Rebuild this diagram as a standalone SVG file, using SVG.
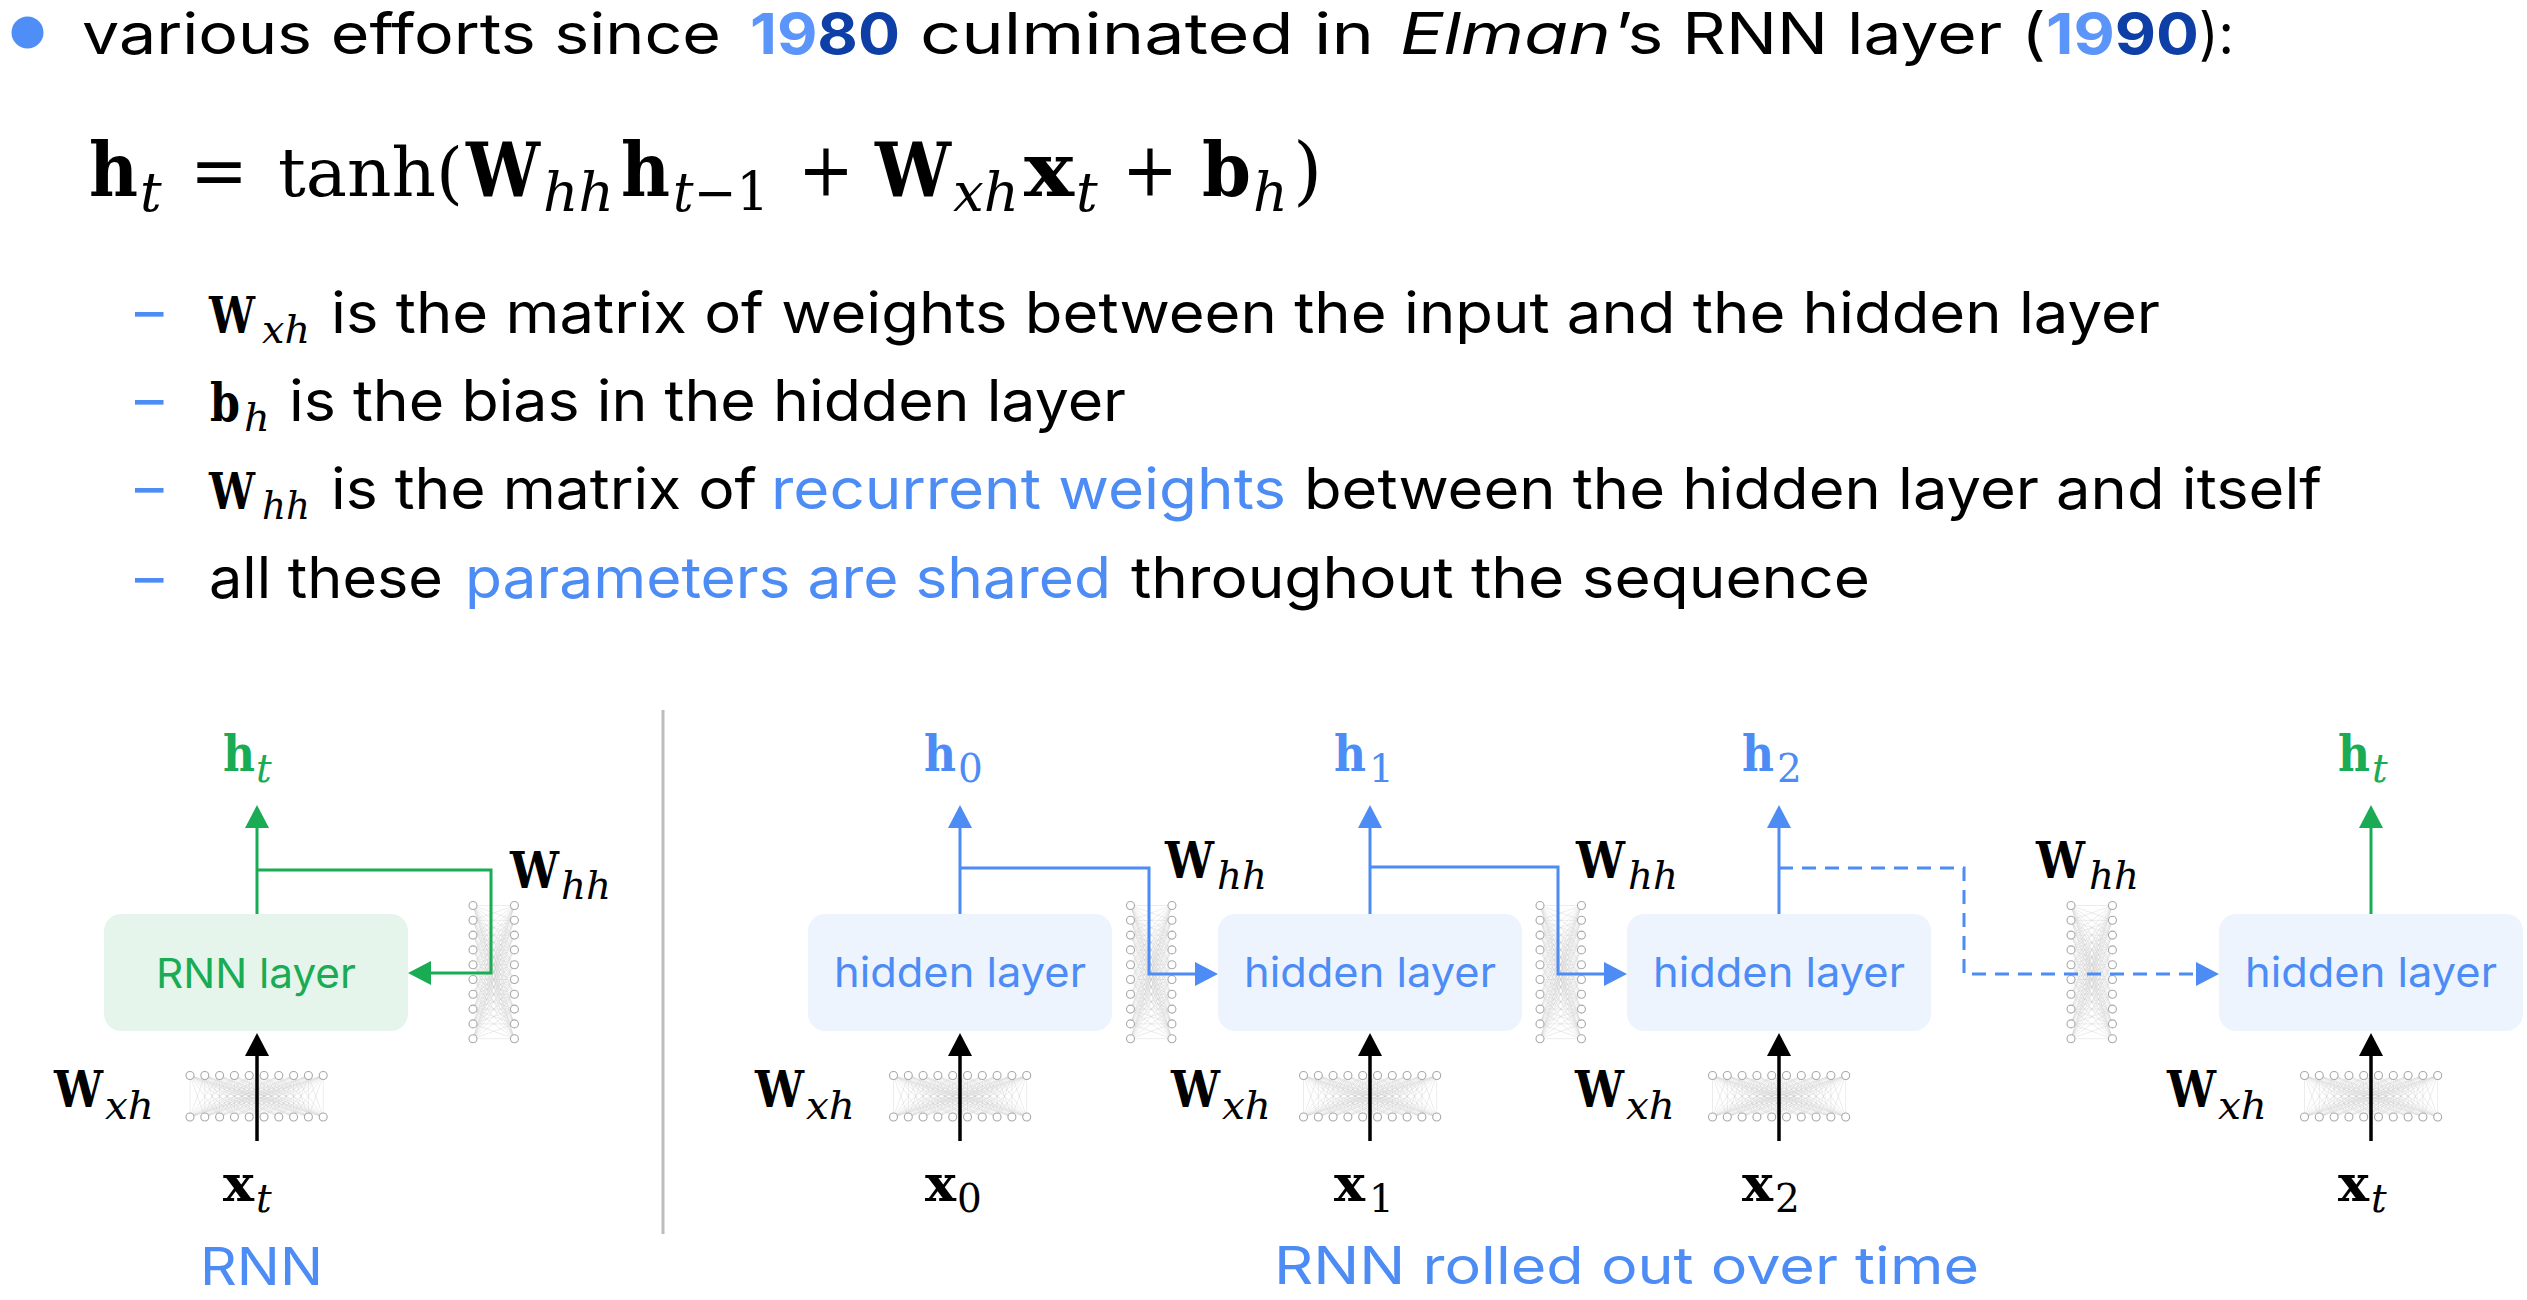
<svg xmlns="http://www.w3.org/2000/svg" xmlns:xlink="http://www.w3.org/1999/xlink" width="2527" height="1300" viewBox="0 0 2527 1300">
<style>
.t{font-family:Inter,"Open Sans","Liberation Sans",sans-serif;font-size:57px;fill:#000}
.hl{fill:#4d8cf5}
.m{font-family:"DejaVu Serif","Liberation Serif",serif;font-weight:bold;font-style:normal}
.mi{font-family:"DejaVu Serif","Liberation Serif",serif;font-style:italic;font-weight:normal}
.mr{font-family:"DejaVu Serif","Liberation Serif",serif;font-weight:normal;font-style:normal}
.lab{font-size:50px}
.sub{font-size:39px}
.bs{font-size:40px}
.eq{font-size:75px}
.es{font-size:54px}
.box-b{fill:#eef4fe}
.box-g{fill:#e6f5ec}
.btxt{font-family:Inter,"Open Sans","Liberation Sans",sans-serif;font-size:41px;fill:#4d8cf5}
.gtxt{font-family:Inter,"Open Sans","Liberation Sans",sans-serif;font-size:41px;fill:#1aab55}
.cap{font-family:Inter,"Open Sans","Liberation Sans",sans-serif;font-size:52px;fill:#4d8cf5}
.lb{fill:none;stroke:#4d8cf5;stroke-width:3}
.lg{fill:none;stroke:#1aab55;stroke-width:3}
.lk{fill:none;stroke:#000;stroke-width:3.5}
.fb{fill:#4d8cf5}
.fg{fill:#1aab55}
.fk{fill:#000}
</style>
<defs>
<marker id="ab" viewBox="0 0 23 24" refX="13" refY="12" markerWidth="23" markerHeight="24" markerUnits="userSpaceOnUse" orient="auto"><path d="M0,0L23,12L0,24z" fill="#4d8cf5"/></marker>
<marker id="ag" viewBox="0 0 23 24" refX="13" refY="12" markerWidth="23" markerHeight="24" markerUnits="userSpaceOnUse" orient="auto"><path d="M0,0L23,12L0,24z" fill="#1aab55"/></marker>
<marker id="ak" viewBox="0 0 23 24" refX="13" refY="12" markerWidth="23" markerHeight="24" markerUnits="userSpaceOnUse" orient="auto"><path d="M0,0L23,12L0,24z" fill="#000"/></marker>
<g id="mesh">
<path fill="none" stroke="#c4c4c4" stroke-width="0.6" stroke-opacity="0.55" vector-effect="non-scaling-stroke" d="M0 0L0 28M0 0L10 28M0 0L20 28M0 0L30 28M0 0L40 28M0 0L50 28M0 0L60 28M0 0L70 28M0 0L80 28M0 0L90 28
M10 0L0 28M10 0L10 28M10 0L20 28M10 0L30 28M10 0L40 28M10 0L50 28M10 0L60 28M10 0L70 28M10 0L80 28M10 0L90 28
M20 0L0 28M20 0L10 28M20 0L20 28M20 0L30 28M20 0L40 28M20 0L50 28M20 0L60 28M20 0L70 28M20 0L80 28M20 0L90 28
M30 0L0 28M30 0L10 28M30 0L20 28M30 0L30 28M30 0L40 28M30 0L50 28M30 0L60 28M30 0L70 28M30 0L80 28M30 0L90 28
M40 0L0 28M40 0L10 28M40 0L20 28M40 0L30 28M40 0L40 28M40 0L50 28M40 0L60 28M40 0L70 28M40 0L80 28M40 0L90 28
M50 0L0 28M50 0L10 28M50 0L20 28M50 0L30 28M50 0L40 28M50 0L50 28M50 0L60 28M50 0L70 28M50 0L80 28M50 0L90 28
M60 0L0 28M60 0L10 28M60 0L20 28M60 0L30 28M60 0L40 28M60 0L50 28M60 0L60 28M60 0L70 28M60 0L80 28M60 0L90 28
M70 0L0 28M70 0L10 28M70 0L20 28M70 0L30 28M70 0L40 28M70 0L50 28M70 0L60 28M70 0L70 28M70 0L80 28M70 0L90 28
M80 0L0 28M80 0L10 28M80 0L20 28M80 0L30 28M80 0L40 28M80 0L50 28M80 0L60 28M80 0L70 28M80 0L80 28M80 0L90 28
M90 0L0 28M90 0L10 28M90 0L20 28M90 0L30 28M90 0L40 28M90 0L50 28M90 0L60 28M90 0L70 28M90 0L80 28M90 0L90 28"/>
<g fill="#fff" stroke="#a8a8a8" stroke-width="1.1">
<circle cx="0" cy="0" r="2.7" vector-effect="non-scaling-stroke"/><circle cx="10" cy="0" r="2.7" vector-effect="non-scaling-stroke"/><circle cx="20" cy="0" r="2.7" vector-effect="non-scaling-stroke"/><circle cx="30" cy="0" r="2.7" vector-effect="non-scaling-stroke"/><circle cx="40" cy="0" r="2.7" vector-effect="non-scaling-stroke"/><circle cx="50" cy="0" r="2.7" vector-effect="non-scaling-stroke"/><circle cx="60" cy="0" r="2.7" vector-effect="non-scaling-stroke"/><circle cx="70" cy="0" r="2.7" vector-effect="non-scaling-stroke"/><circle cx="80" cy="0" r="2.7" vector-effect="non-scaling-stroke"/><circle cx="90" cy="0" r="2.7" vector-effect="non-scaling-stroke"/>
<circle cx="0" cy="28" r="2.7" vector-effect="non-scaling-stroke"/><circle cx="10" cy="28" r="2.7" vector-effect="non-scaling-stroke"/><circle cx="20" cy="28" r="2.7" vector-effect="non-scaling-stroke"/><circle cx="30" cy="28" r="2.7" vector-effect="non-scaling-stroke"/><circle cx="40" cy="28" r="2.7" vector-effect="non-scaling-stroke"/><circle cx="50" cy="28" r="2.7" vector-effect="non-scaling-stroke"/><circle cx="60" cy="28" r="2.7" vector-effect="non-scaling-stroke"/><circle cx="70" cy="28" r="2.7" vector-effect="non-scaling-stroke"/><circle cx="80" cy="28" r="2.7" vector-effect="non-scaling-stroke"/><circle cx="90" cy="28" r="2.7" vector-effect="non-scaling-stroke"/>
</g>
</g>
</defs>
<rect width="2527" height="1300" fill="#fff"/>

<g id="heading">
<circle cx="27.5" cy="32.5" r="16" fill="#4f8ef7"/>
<text class="t" x="82" y="54" textLength="639" lengthAdjust="spacingAndGlyphs">various efforts since</text>
<text class="t" x="750" y="54" font-weight="bold" textLength="150" lengthAdjust="spacingAndGlyphs"><tspan fill="#5b95f9">19</tspan><tspan fill="#0d3fa6">80</tspan></text>
<text class="t" x="920" y="54" textLength="454" lengthAdjust="spacingAndGlyphs">culminated in</text>
<text class="t" x="1400" y="54" font-style="italic" textLength="211" lengthAdjust="spacingAndGlyphs">Elman</text>
<text class="t" x="1615" y="54" textLength="431" lengthAdjust="spacingAndGlyphs">’s RNN layer (</text>
<text class="t" x="2046" y="54" font-weight="bold" textLength="153" lengthAdjust="spacingAndGlyphs"><tspan fill="#5b95f9">19</tspan><tspan fill="#0d3fa6">90</tspan></text>
<text class="t" x="2199" y="54" textLength="35" lengthAdjust="spacingAndGlyphs">):</text>
</g>

<g id="equation" class="fk">
<text class="m eq" x="89" y="196" textLength="49" lengthAdjust="spacingAndGlyphs">h</text>
<text class="mi es" x="140" y="211">t</text>
<text class="mr eq" x="190" y="196" textLength="58" lengthAdjust="spacingAndGlyphs">=</text>
<text class="mr" font-size="68" x="278" y="196" textLength="185" lengthAdjust="spacingAndGlyphs">tanh(</text>
<text class="m eq" x="466" y="196" textLength="74" lengthAdjust="spacingAndGlyphs">W</text>
<text class="mi es" x="543" y="211" textLength="71" lengthAdjust="spacingAndGlyphs">hh</text>
<text class="m eq" x="621" y="196" textLength="49" lengthAdjust="spacingAndGlyphs">h</text>
<text class="mr es" x="673" y="211" textLength="96" lengthAdjust="spacingAndGlyphs"><tspan class="mi">t</tspan>−1</text>
<text class="mr eq" x="798" y="196" textLength="56" lengthAdjust="spacingAndGlyphs">+</text>
<text class="m eq" x="875" y="196" textLength="76" lengthAdjust="spacingAndGlyphs">W</text>
<text class="mi es" x="953" y="211" textLength="66" lengthAdjust="spacingAndGlyphs">xh</text>
<text class="m eq" x="1024" y="196" textLength="50" lengthAdjust="spacingAndGlyphs">x</text>
<text class="mi es" x="1076" y="211">t</text>
<text class="mr eq" x="1122" y="196" textLength="56" lengthAdjust="spacingAndGlyphs">+</text>
<text class="m eq" x="1202" y="196" textLength="49" lengthAdjust="spacingAndGlyphs">b</text>
<text class="mi es" x="1253" y="211">h</text>
<text class="mr eq" x="1293" y="196">)</text>
</g>

<g id="bullets">
<text class="t hl" x="135" y="332">–</text>
<text class="m fk" font-size="50" x="209" y="333" textLength="46" lengthAdjust="spacingAndGlyphs">W</text>
<text class="mi bs fk" x="262" y="343" textLength="48" lengthAdjust="spacingAndGlyphs">xh</text>
<text class="t" x="331" y="333" textLength="1829" lengthAdjust="spacingAndGlyphs">is the matrix of weights between the input and the hidden layer</text>

<text class="t hl" x="135" y="420">–</text>
<text class="m fk" font-size="52" x="210" y="421" textLength="30" lengthAdjust="spacingAndGlyphs">b</text>
<text class="mi bs fk" x="244" y="431">h</text>
<text class="t" x="289" y="421" textLength="837" lengthAdjust="spacingAndGlyphs">is the bias in the hidden layer</text>

<text class="t hl" x="135" y="508">–</text>
<text class="m fk" font-size="50" x="209" y="509" textLength="46" lengthAdjust="spacingAndGlyphs">W</text>
<text class="mi bs fk" x="262" y="519" textLength="48" lengthAdjust="spacingAndGlyphs">hh</text>
<text class="t" x="331" y="509" textLength="426" lengthAdjust="spacingAndGlyphs">is the matrix of</text>
<text class="t hl" x="771" y="509" textLength="515" lengthAdjust="spacingAndGlyphs">recurrent weights</text>
<text class="t" x="1304" y="509" textLength="1018" lengthAdjust="spacingAndGlyphs">between the hidden layer and itself</text>

<text class="t hl" x="135" y="598">–</text>
<text class="t" x="209" y="598" textLength="234" lengthAdjust="spacingAndGlyphs">all these</text>
<text class="t hl" x="465" y="598" textLength="646" lengthAdjust="spacingAndGlyphs">parameters are shared</text>
<text class="t" x="1131" y="598" textLength="739" lengthAdjust="spacingAndGlyphs">throughout the sequence</text>
</g>

<line id="separator" x1="663" y1="710" x2="663" y2="1234" stroke="#bdbdbd" stroke-width="3"/>

<g id="weights">
<use xlink:href="#mesh" transform="translate(190,1075.5) scale(1.48)"/>
<use xlink:href="#mesh" transform="translate(893.5,1075.5) scale(1.48)"/>
<use xlink:href="#mesh" transform="translate(1303.5,1075.5) scale(1.48)"/>
<use xlink:href="#mesh" transform="translate(1712.5,1075.5) scale(1.48)"/>
<use xlink:href="#mesh" transform="translate(2304.5,1075.5) scale(1.48)"/>
<use xlink:href="#mesh" transform="translate(473,905.5) matrix(0,1.48,1.48,0,0,0)"/>
<use xlink:href="#mesh" transform="translate(1130.5,905.5) matrix(0,1.48,1.48,0,0,0)"/>
<use xlink:href="#mesh" transform="translate(1540,905.5) matrix(0,1.48,1.48,0,0,0)"/>
<use xlink:href="#mesh" transform="translate(2071,905.5) matrix(0,1.48,1.48,0,0,0)"/>
</g>

<g id="rnn-layer">
<rect class="box-g" x="104" y="914" width="304" height="117" rx="17"/>
<text class="gtxt" x="156" y="988" textLength="200" lengthAdjust="spacingAndGlyphs">RNN layer</text>
</g>
<g id="hidden-0">
<rect class="box-b" x="808" y="914" width="304" height="117" rx="17"/>
<text class="btxt" x="834" y="987" textLength="252" lengthAdjust="spacingAndGlyphs">hidden layer</text>
</g>
<g id="hidden-1">
<rect class="box-b" x="1218" y="914" width="304" height="117" rx="17"/>
<text class="btxt" x="1244" y="987" textLength="252" lengthAdjust="spacingAndGlyphs">hidden layer</text>
</g>
<g id="hidden-2">
<rect class="box-b" x="1627" y="914" width="304" height="117" rx="17"/>
<text class="btxt" x="1653" y="987" textLength="252" lengthAdjust="spacingAndGlyphs">hidden layer</text>
</g>
<g id="hidden-t">
<rect class="box-b" x="2219" y="914" width="304" height="117" rx="17"/>
<text class="btxt" x="2245" y="987" textLength="252" lengthAdjust="spacingAndGlyphs">hidden layer</text>
</g>

<g id="connectors">
<path class="lg" d="M257,914V815" marker-end="url(#ag)"/>
<path class="lg" d="M257,870H491V973H418" marker-end="url(#ag)"/>
<path class="lk" d="M257,1141V1043" marker-end="url(#ak)"/>

<path class="lb" d="M960,914V815" marker-end="url(#ab)"/>
<path class="lb" d="M960,868H1149V974H1208" marker-end="url(#ab)"/>
<path class="lk" d="M960,1141V1043" marker-end="url(#ak)"/>

<path class="lb" d="M1370,914V815" marker-end="url(#ab)"/>
<path class="lb" d="M1370,867H1558V974H1617" marker-end="url(#ab)"/>
<path class="lk" d="M1370,1141V1043" marker-end="url(#ak)"/>

<path class="lb" d="M1779,914V815" marker-end="url(#ab)"/>
<path class="lb" d="M1779,868H1964V974H2209" stroke-dasharray="14 9" marker-end="url(#ab)"/>
<path class="lk" d="M1779,1141V1043" marker-end="url(#ak)"/>

<path class="lg" d="M2371,914V815" marker-end="url(#ag)"/>
<path class="lk" d="M2371,1141V1043" marker-end="url(#ak)"/>
</g>

<g id="labels">
<text class="m lab fg" x="223" y="771" textLength="32" lengthAdjust="spacingAndGlyphs">h</text><text class="mi sub fg" x="256" y="782">t</text>
<text class="m lab fb" x="924" y="771" textLength="32" lengthAdjust="spacingAndGlyphs">h</text><text class="mr sub fb" x="958" y="782">0</text>
<text class="m lab fb" x="1334" y="771" textLength="32" lengthAdjust="spacingAndGlyphs">h</text><text class="mr sub fb" x="1369" y="782">1</text>
<text class="m lab fb" x="1742" y="771" textLength="32" lengthAdjust="spacingAndGlyphs">h</text><text class="mr sub fb" x="1777" y="782">2</text>
<text class="m lab fg" x="2338" y="771" textLength="32" lengthAdjust="spacingAndGlyphs">h</text><text class="mi sub fg" x="2372" y="782">t</text>

<text class="m lab fk" x="223" y="1201" textLength="31" lengthAdjust="spacingAndGlyphs">x</text><text class="mi sub fk" x="256" y="1212">t</text>
<text class="m lab fk" x="925" y="1201" textLength="31" lengthAdjust="spacingAndGlyphs">x</text><text class="mr sub fk" x="957" y="1212">0</text>
<text class="m lab fk" x="1334" y="1201" textLength="31" lengthAdjust="spacingAndGlyphs">x</text><text class="mr sub fk" x="1369" y="1212">1</text>
<text class="m lab fk" x="1742" y="1201" textLength="31" lengthAdjust="spacingAndGlyphs">x</text><text class="mr sub fk" x="1775" y="1212">2</text>
<text class="m lab fk" x="2338" y="1201" textLength="31" lengthAdjust="spacingAndGlyphs">x</text><text class="mi sub fk" x="2371" y="1212">t</text>

<text class="m lab fk" x="54" y="1107" textLength="49" lengthAdjust="spacingAndGlyphs">W</text><text class="mi sub fk" x="105" y="1119" textLength="49" lengthAdjust="spacingAndGlyphs">xh</text>
<text class="m lab fk" x="755" y="1107" textLength="49" lengthAdjust="spacingAndGlyphs">W</text><text class="mi sub fk" x="806" y="1119" textLength="49" lengthAdjust="spacingAndGlyphs">xh</text>
<text class="m lab fk" x="1171" y="1107" textLength="49" lengthAdjust="spacingAndGlyphs">W</text><text class="mi sub fk" x="1222" y="1119" textLength="49" lengthAdjust="spacingAndGlyphs">xh</text>
<text class="m lab fk" x="1575" y="1107" textLength="49" lengthAdjust="spacingAndGlyphs">W</text><text class="mi sub fk" x="1626" y="1119" textLength="49" lengthAdjust="spacingAndGlyphs">xh</text>
<text class="m lab fk" x="2167" y="1107" textLength="49" lengthAdjust="spacingAndGlyphs">W</text><text class="mi sub fk" x="2218" y="1119" textLength="49" lengthAdjust="spacingAndGlyphs">xh</text>

<text class="m lab fk" x="510" y="888" textLength="49" lengthAdjust="spacingAndGlyphs">W</text><text class="mi sub fk" x="561" y="899" textLength="50" lengthAdjust="spacingAndGlyphs">hh</text>
<text class="m lab fk" x="1165" y="878" textLength="49" lengthAdjust="spacingAndGlyphs">W</text><text class="mi sub fk" x="1217" y="889" textLength="50" lengthAdjust="spacingAndGlyphs">hh</text>
<text class="m lab fk" x="1576" y="878" textLength="49" lengthAdjust="spacingAndGlyphs">W</text><text class="mi sub fk" x="1628" y="889" textLength="50" lengthAdjust="spacingAndGlyphs">hh</text>
<text class="m lab fk" x="2036" y="878" textLength="49" lengthAdjust="spacingAndGlyphs">W</text><text class="mi sub fk" x="2089" y="889" textLength="50" lengthAdjust="spacingAndGlyphs">hh</text>

<text class="cap" x="200" y="1285" textLength="123" lengthAdjust="spacingAndGlyphs">RNN</text>
<text class="cap" x="1274" y="1284" textLength="705" lengthAdjust="spacingAndGlyphs">RNN rolled out over time</text>
</g>
</svg>
